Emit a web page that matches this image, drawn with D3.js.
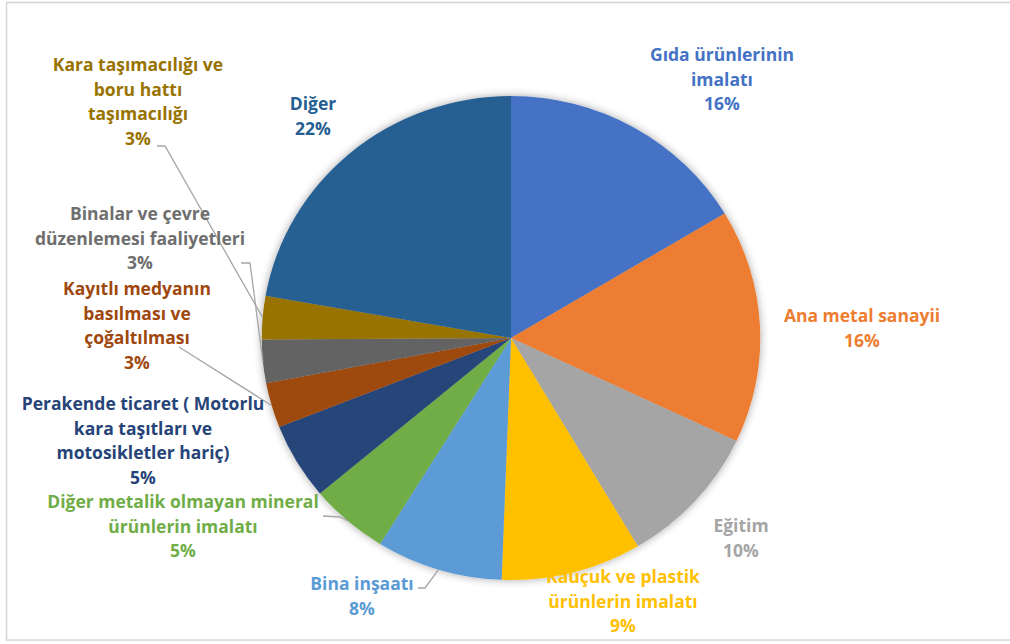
<!DOCTYPE html>
<html>
<head>
<meta charset="utf-8">
<script src="https://cdn.jsdelivr.net/npm/d3@7"></script>
<style>
  body { margin: 0; background: #fff; }
  text { font-family: "Open Sans", Lato, sans-serif; font-weight: bold; }
</style>
</head>
<body>
<div id="viz"></div>
<script>
// chart data
const categories = [
    "Gıda ürünlerinin imalatı",
    "Ana metal sanayii",
    "Eğitim",
    "Kauçuk ve plastik ürünlerin imalatı",
    "Bina inşaatı",
    "Diğer metalik olmayan mineral ürünlerin imalatı",
    "Perakende ticaret ( Motorlu kara taşıtları ve motosikletler hariç)",
    "Kayıtlı medyanın basılması ve çoğaltılması",
    "Binalar ve çevre düzenlemesi faaliyetleri",
    "Kara taşımacılığı ve boru hattı taşımacılığı",
    "Diğer"
];
const shares = [16.4, 15.6, 9.5, 9.1, 8.2, 5.1, 5.1, 3.0, 2.9, 2.9, 22.2];
// label text lines as wrapped in the chart
const labelLines = [
    ["Gıda ürünlerinin", "imalatı"],
    ["Ana metal sanayii"],
    ["Eğitim"],
    ["Kauçuk ve plastik", "ürünlerin imalatı"],
    ["Bina inşaatı"],
    ["Diğer metalik olmayan mineral", "ürünlerin imalatı"],
    ["Perakende ticaret ( Motorlu", "kara taşıtları ve", "motosikletler hariç)"],
    ["Kayıtlı medyanın", "basılması ve", "çoğaltılması"],
    ["Binalar ve çevre", "düzenlemesi faaliyetleri"],
    ["Kara taşımacılığı ve", "boru hattı", "taşımacılığı"],
    ["Diğer"]
];

const colors = ["#4472C4", "#ED7D31", "#A5A5A5", "#FFC000", "#5B9BD5", "#70AD47",
                "#264478", "#9E480E", "#636363", "#997300", "#255E91"];
const textColors = ["#4472C4", "#ED7D31", "#A5A5A5", "#FFC000", "#5B9BD5", "#70AD47",
                    "#264478", "#9E480E", "#6E6E6E", "#997300", "#255E91"];

// label placement (center x, first baseline y) and leader-line start
const labelLayout = [
    { x: 722, y: 61 },
    { x: 862, y: 322 },
    { x: 741, y: 532 },
    { x: 623, y: 583 },
    { x: 362, y: 590 },
    { x: 183, y: 508 },
    { x: 143, y: 410 },
    { x: 137, y: 295 },
    { x: 140, y: 220 },
    { x: 138, y: 71 },
    { x: 313, y: 110 }
];
const leaders = {
    4: [[418, 588], [425, 588]],
    5: [[323, 516], [340, 517]],
    7: [[179, 347]],
    8: [[241, 263], [250, 263]],
    9: [[157, 146], [165, 146]]
};

const W = 1010, H = 644;
const cx = 511, cy = 338, r = 242, sx = 1.03;
const lineH = 24.7;

const svg = d3.select("#viz").append("svg")
    .attr("width", W).attr("height", H);

svg.append("rect")
    .attr("x", 6.5).attr("y", 2.5)
    .attr("width", W).attr("height", 637.5)
    .attr("fill", "#fff").attr("stroke", "#d4d4d4").attr("stroke-width", 1.5);

const defs = svg.append("defs");
const f = defs.append("filter").attr("id", "shadow")
    .attr("x", "-10%").attr("y", "-10%").attr("width", "120%").attr("height", "120%");
f.append("feDropShadow").attr("dx", 0).attr("dy", 0)
    .attr("stdDeviation", 4).attr("flood-color", "#000").attr("flood-opacity", 0.35);

const pie = d3.pie().sort(null).value(d => d);
const arcs = pie(shares);
const arc = d3.arc().innerRadius(0).outerRadius(r);

const g = svg.append("g")
    .attr("transform", `translate(${cx},${cy}) scale(${sx},1)`)
    .attr("filter", "url(#shadow)");

g.selectAll("path")
    .data(arcs)
    .enter()
    .append("path")
    .attr("d", arc)
    .attr("fill", (d, i) => colors[i]);

// leader lines
function edgePoint(d) {
    const a = (d.startAngle + d.endAngle) / 2;
    return [cx + Math.sin(a) * r * sx, cy - Math.cos(a) * r];
}
Object.keys(leaders).forEach(k => {
    const pts = leaders[k].concat([edgePoint(arcs[k])]);
    svg.append("path")
        .attr("d", d3.line()(pts))
        .attr("fill", "none")
        .attr("stroke", "#a6a6a6")
        .attr("stroke-width", 1.3);
});

// labels
arcs.forEach((d, i) => {
    const lines = labelLines[i].concat([Math.round(d.value) + "%"]);
    const t = svg.append("text")
        .attr("text-anchor", "middle")
        .attr("font-size", 17.5)
        .attr("fill", textColors[i]);
    lines.forEach((s, j) => {
        t.append("tspan")
            .attr("x", labelLayout[i].x)
            .attr("y", labelLayout[i].y + j * lineH)
            .text(s);
    });
});
</script>
</body>
</html>
